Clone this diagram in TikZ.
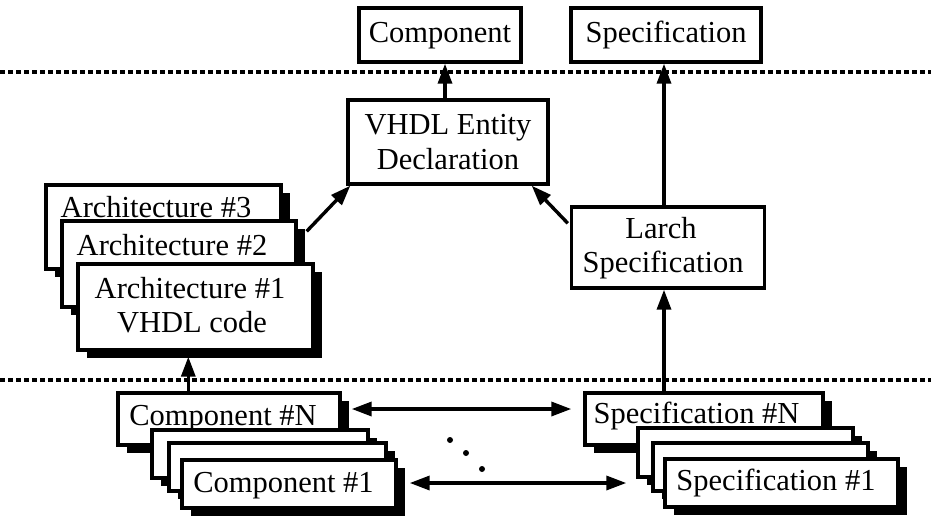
\documentclass[tikz,border=0pt]{standalone}
\usepackage{fontspec}
\setmainfont{Liberation Serif}
\usetikzlibrary{arrows.meta,shadows,calc}
\begin{document}
\begin{tikzpicture}[x=1pt,y=-1pt,
  box/.style={draw=black, line width=3.4pt, fill=white, inner sep=0pt},
  stackbox/.style={box, drop shadow={shadow xshift=9pt, shadow yshift=-8pt, opacity=1, fill=black}},
  txt/.style={anchor=base, inner sep=0pt, font=\fontsize{30.5}{34}\selectfont},
  arr/.style={line width=3.4pt, -{Triangle[length=20pt,width=14pt]}},
  darr/.style={line width=3.4pt, {Triangle[length=20pt,width=14pt]}-{Triangle[length=20pt,width=14pt]}},
  sepline/.style={line width=3.6pt, dash pattern=on 5pt off 3pt},
  dotmark/.style={circle, fill=black, inner sep=0pt, minimum size=6pt}]
\useasboundingbox (0,0) rectangle (931,516);
% separator lines
\coordinate (t0) at (0,72); \coordinate (t1) at (931,72);
\coordinate (b0) at (0,380); \coordinate (b1) at (931,380);
\draw[sepline] (t0) -- (t1);
\draw[sepline] (b0) -- (b1);
% top level
\node[box, minimum width=162pt, minimum height=54pt] (comp) at (440,35) {};
\node[txt] (compT) at (440,43) {Component};
\node[box, minimum width=190pt, minimum height=54pt] (spec) at (666,35) {};
\node[txt] (specT) at (666,43) {Specification};
% middle
\node[box, minimum width=200pt, minimum height=84pt] (vhdl) at (448,142) {};
\node[txt] (vhdlT1) at (448,135) {VHDL Entity};
\node[txt] (vhdlT2) at (448,169) {Declaration};
\node[box, minimum width=193pt, minimum height=81pt] (larch) at (668,247.5) {};
\node[txt] (larchT1) at (661,238) {Larch};
\node[txt] (larchT2) at (663,272) {Specification};
% architectures
\node[stackbox, minimum width=235pt, minimum height=84pt] (arch3) at (163.5,227) {};
\node[txt] (arch3T) at (156,217) {Architecture \#3};
\node[stackbox, minimum width=234pt, minimum height=86pt] (arch2) at (179,264) {};
\node[txt] (arch2T) at (172,255) {Architecture \#2};
\node[stackbox, minimum width=235pt, minimum height=86pt] (arch1) at (195.5,307) {};
\node[txt] (arch1T1) at (190,298) {Architecture \#1};
\node[txt] (arch1T2) at (192,332) {VHDL code};
% component stack
\node[stackbox, minimum width=222pt, minimum height=52pt] (compN) at (229,419) {};
\node[txt] (compNT) at (223,425) {Component \#N};
\node[stackbox, minimum width=216pt, minimum height=48pt] (cb2) at (260,454) {};
\node[stackbox, minimum width=217pt, minimum height=48pt] (cb3) at (277.5,467) {};
\node[stackbox, minimum width=214pt, minimum height=48pt] (comp1) at (289,484) {};
\node[txt] (comp1T) at (283.5,492) {Component \#1};
% specification stack
\node[stackbox, minimum width=238pt, minimum height=52pt] (specN) at (704,419) {};
\node[txt] (specNT) at (696.5,423) {Specification \#N};
\node[stackbox, minimum width=215pt, minimum height=49pt] (sb2) at (745.5,452.5) {};
\node[stackbox, minimum width=215pt, minimum height=48pt] (sb3) at (760.5,467) {};
\node[stackbox, minimum width=233pt, minimum height=48pt] (spec1) at (781.5,483) {};
\node[txt] (spec1T) at (776,490) {Specification \#1};
% dots
\node[dotmark] (d1) at (450,440) {};
\node[dotmark] (d2) at (466,453) {};
\node[dotmark] (d3) at (482,469) {};
% arrows
\draw[arr] ([xshift=-3pt]vhdl.north) -- ([xshift=-3pt]vhdl.north |- comp.south);
\draw[arr] ([xshift=-4pt]larch.north) -- ([xshift=-4pt]larch.north |- spec.south);
\draw[arr] ($(arch2.north east)+(9,12)$) -- ($(vhdl.south west)+(4,0)$);
\draw[arr] ($(larch.north west)+(-2,18)$) -- ($(vhdl.south east)+(-18,0)$);
\draw[arr] ($(compN.north west)+(72,0)$) -- ($(arch1.south west)+(112,5)$);
\draw[arr] ([xshift=-4pt]larch.south |- specN.north) -- ([xshift=-4pt]larch.south);
\draw[darr] ($(compN.east)+(10,-10)$) -- ($(specN.west)+(-12,-10)$);
\draw[darr] ($(comp1.east)+(12,-1)$) -- ($(sb2.west |- comp1.east)+(-10,-1)$);
\end{tikzpicture}
\end{document}
